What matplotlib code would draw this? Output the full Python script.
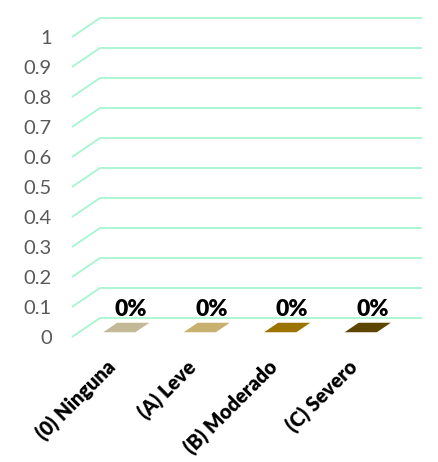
import matplotlib
matplotlib.use("Agg")
import matplotlib.pyplot as plt
from matplotlib.patches import Polygon

categories = ["(0) Ninguna", "(A) Leve", "(B) Moderado", "(C) Severo"]
values = [0, 0, 0, 0]
value_labels = ["0%", "0%", "0%", "0%"]
bar_colors = ["#C4B996", "#C8B06E", "#9A7300", "#5D4500"]
yticks = [0, 0.1, 0.2, 0.3, 0.4, 0.5, 0.6, 0.7, 0.8, 0.9, 1]
ytick_labels = ["0", "0.1", "0.2", "0.3", "0.4", "0.5", "0.6", "0.7", "0.8", "0.9", "1"]

GRID_COLOR = "#A6F6D0"
TEXT_GRAY = "#595959"
# oblique "3D" depth: full depth shifts left/down by this much (data units)
DEPTH_DX = -0.348
DEPTH_DY = -0.0633
BAR_W = 0.4
BAR_D0, BAR_D1 = 0.25, 0.75

plt.rcParams["font.family"] = ["Lato", "DejaVu Sans"]


def proj(x, y, d):
    return x + DEPTH_DX * d, y + DEPTH_DY * d


fig = plt.figure(figsize=(4.38, 4.62), dpi=100)
ax = fig.add_axes([100 / 438, 144 / 462, 322 / 438, 300 / 462])
ax.set_xlim(-0.5, len(categories) - 0.5)
ax.set_ylim(0, 1)
ax.set_axis_off()

# back wall gridlines + floor/side diagonal
for v, lab in zip(yticks, ytick_labels):
    fx, fy = proj(-0.5, v, 1)
    ax.plot([fx, -0.5, len(categories) - 0.5], [fy, v, v], color=GRID_COLOR,
            lw=1.3, clip_on=False, solid_capstyle="butt", zorder=1)
    ax.annotate(lab, xy=(fx, fy), xytext=(-20, -2), textcoords="offset pixels",
                ha="right", va="center", fontsize=14.5, color=TEXT_GRAY,
                annotation_clip=False)

for i, (v, col) in enumerate(zip(values, bar_colors)):
    x0, x1 = i - BAR_W / 2, i + BAR_W / 2
    front = [proj(x0, 0, BAR_D1), proj(x1, 0, BAR_D1), proj(x1, v, BAR_D1), proj(x0, v, BAR_D1)]
    side = [proj(x1, 0, BAR_D1), proj(x1, 0, BAR_D0), proj(x1, v, BAR_D0), proj(x1, v, BAR_D1)]
    top = [proj(x0, v, BAR_D0), proj(x1, v, BAR_D0), proj(x1, v, BAR_D1), proj(x0, v, BAR_D1)]
    for pts in (front, side, top):
        ax.add_patch(Polygon(pts, closed=True, facecolor=col, edgecolor="none",
                             clip_on=False, zorder=2))
    ax.annotate(value_labels[i], xy=proj(i, v, BAR_D0), xytext=(-2, 3),
                textcoords="offset pixels", ha="center", va="bottom",
                fontsize=16.5, fontweight="heavy", color="black", zorder=3,
                annotation_clip=False)
    ax.annotate(categories[i], xy=proj(i, 0, 1), xytext=(8, -20),
                textcoords="offset pixels", ha="right", va="top", rotation=45,
                fontsize=14.3, fontweight="heavy", color="black",
                annotation_clip=False)

fig.savefig("out.png", dpi=100)
